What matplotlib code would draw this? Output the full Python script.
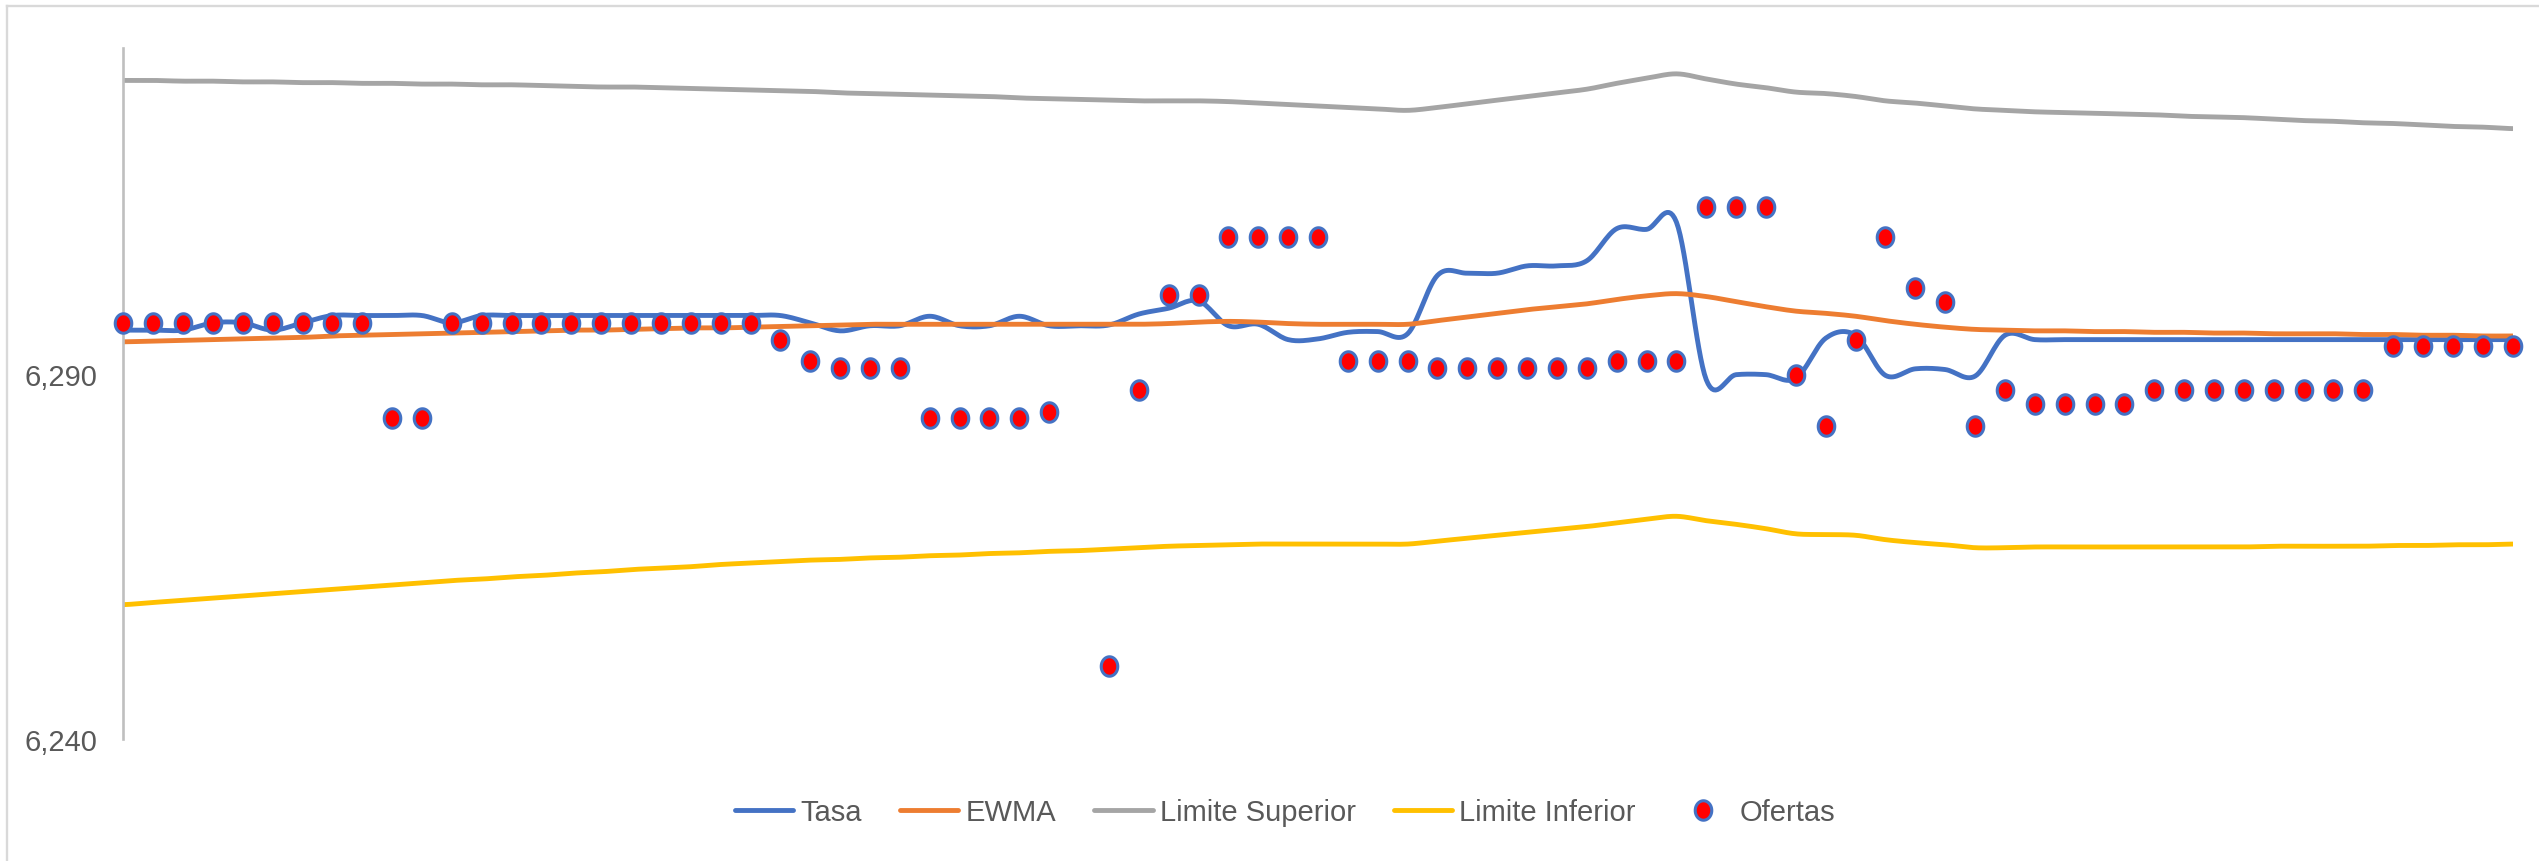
import numpy as np
import matplotlib
matplotlib.use("Agg")
import matplotlib.pyplot as plt
from matplotlib.lines import Line2D
from matplotlib.path import Path

plt.rcParams['font.family'] = ['Liberation Sans', 'DejaVu Sans']

tasa = [6296.0, 6296.0, 6296.0, 6297.0, 6297.0, 6296.0, 6297.0, 6298.0, 6298.0, 6298.0,
        6298.0, 6297.0, 6298.0, 6298.0, 6298.0, 6298.0, 6298.0, 6298.0, 6298.0, 6298.0,
        6298.0, 6298.0, 6298.0, 6297.0, 6295.9, 6296.6, 6296.6, 6297.9, 6296.6, 6296.6,
        6297.9, 6296.6, 6296.6, 6296.7, 6298.2, 6299.0, 6300.0, 6296.6, 6296.8, 6294.7,
        6294.8, 6295.7, 6295.8, 6295.5, 6303.5, 6303.8, 6303.8, 6304.8, 6304.8, 6305.5,
        6309.9, 6309.8, 6310.8, 6289.2, 6289.9, 6289.9, 6289.4, 6294.9, 6295.3, 6289.8,
        6290.7, 6290.6, 6289.7, 6295.3, 6294.7, 6294.7, 6294.7, 6294.7, 6294.7, 6294.7,
        6294.7, 6294.7, 6294.7, 6294.7, 6294.7, 6294.7, 6294.7, 6294.7, 6294.7, 6294.7,
        6294.7]

ewma = [6294.4, 6294.5, 6294.6, 6294.7, 6294.8, 6294.9, 6295.0, 6295.2, 6295.3, 6295.4,
        6295.5, 6295.6, 6295.7, 6295.8, 6295.9, 6296.0, 6296.0, 6296.1, 6296.2, 6296.3,
        6296.3, 6296.4, 6296.5, 6296.6, 6296.7, 6296.8, 6296.8, 6296.8, 6296.8, 6296.8,
        6296.8, 6296.8, 6296.8, 6296.8, 6296.8, 6296.9, 6297.1, 6297.2, 6297.1, 6296.9,
        6296.8, 6296.8, 6296.8, 6296.8, 6297.3, 6297.8, 6298.3, 6298.8, 6299.2, 6299.6,
        6300.2, 6300.7, 6301.0, 6300.6, 6299.9, 6299.2, 6298.6, 6298.3, 6297.9, 6297.3,
        6296.8, 6296.4, 6296.1, 6296.0, 6295.9, 6295.9, 6295.8, 6295.8, 6295.7, 6295.7,
        6295.6, 6295.6, 6295.5, 6295.5, 6295.5, 6295.4, 6295.4, 6295.3, 6295.3, 6295.2,
        6295.2]

lim_sup = [6330.2, 6330.2, 6330.1, 6330.1, 6330.0, 6330.0, 6329.9, 6329.9, 6329.8, 6329.8,
           6329.7, 6329.7, 6329.6, 6329.6, 6329.5, 6329.4, 6329.3, 6329.3, 6329.2, 6329.1,
           6329.0, 6328.9, 6328.8, 6328.7, 6328.5, 6328.4, 6328.3, 6328.2, 6328.1, 6328.0,
           6327.8, 6327.7, 6327.6, 6327.5, 6327.4, 6327.4, 6327.4, 6327.3, 6327.1, 6326.9,
           6326.7, 6326.5, 6326.3, 6326.1, 6326.5, 6327.0, 6327.5, 6328.0, 6328.5, 6329.0,
           6329.8, 6330.5, 6331.1, 6330.4, 6329.7, 6329.2, 6328.6, 6328.4, 6328.0, 6327.4,
           6327.1, 6326.7, 6326.3, 6326.1, 6325.9, 6325.8, 6325.7, 6325.6, 6325.5, 6325.3,
           6325.2, 6325.1, 6324.9, 6324.7, 6324.6, 6324.4, 6324.3, 6324.1, 6323.9, 6323.8,
           6323.6]

lim_inf = [6258.4, 6258.7, 6259.0, 6259.3, 6259.6, 6259.9, 6260.2, 6260.5, 6260.8, 6261.1,
           6261.4, 6261.7, 6261.9, 6262.2, 6262.4, 6262.7, 6262.9, 6263.2, 6263.4, 6263.6,
           6263.9, 6264.1, 6264.3, 6264.5, 6264.6, 6264.8, 6264.9, 6265.1, 6265.2, 6265.4,
           6265.5, 6265.7, 6265.8, 6266.0, 6266.2, 6266.4, 6266.5, 6266.6, 6266.7, 6266.7,
           6266.7, 6266.7, 6266.7, 6266.7, 6267.1, 6267.5, 6267.9, 6268.3, 6268.7, 6269.1,
           6269.6, 6270.1, 6270.5, 6269.9, 6269.4, 6268.8, 6268.1, 6268.0, 6267.9, 6267.3,
           6266.9, 6266.6, 6266.2, 6266.2, 6266.3, 6266.3, 6266.3, 6266.3, 6266.3, 6266.3,
           6266.3, 6266.3, 6266.4, 6266.4, 6266.4, 6266.4, 6266.5, 6266.5, 6266.6, 6266.6,
           6266.7]

nan = np.nan
ofertas = [6297.0, 6297.0, 6297.0, 6297.0, 6297.0, 6297.0, 6297.0, 6297.0, 6297.0, 6284.0,
           6284.0, 6297.0, 6297.0, 6297.0, 6297.0, 6297.0, 6297.0, 6297.0, 6297.0, 6297.0,
           6297.0, 6297.0, 6294.7, 6291.8, 6290.8, 6290.8, 6290.8, 6283.9, 6283.9, 6283.9,
           6283.9, 6284.8, nan, 6250.0, 6287.8, 6300.8, 6300.8, 6308.7, 6308.7, 6308.7,
           6308.7, 6291.8, 6291.8, 6291.8, 6290.8, 6290.8, 6290.8, 6290.8, 6290.8, 6290.8,
           6291.8, 6291.8, 6291.8, 6312.8, 6312.8, 6312.8, 6289.8, 6282.9, 6294.6, 6308.7,
           6301.8, 6299.9, 6282.9, 6287.8, 6285.9, 6285.9, 6285.9, 6285.9, 6287.8, 6287.8,
           6287.8, 6287.8, 6287.8, 6287.8, 6287.8, 6287.8, 6293.8, 6293.8, 6293.8, 6293.8,
           6293.8]

x = np.arange(len(tasa))


# Excel style smoothed line (bezier through the points)
def smooth(y, n=16):
    p = np.asarray(y, float)
    e = np.concatenate([[p[0]], p, [p[-1]]])
    t = np.linspace(0, 1, n, endpoint=False)
    xs, ys = [], []
    for i in range(len(p) - 1):
        p0, p1, p2, p3 = e[i], e[i + 1], e[i + 2], e[i + 3]
        c1 = p1 + (p2 - p0) / 6
        c2 = p2 - (p3 - p1) / 6
        b = (1 - t)**3 * p1 + 3 * (1 - t)**2 * t * c1 + 3 * (1 - t) * t**2 * c2 + t**3 * p2
        xs.append(i + t)
        ys.append(b)
    xs.append([len(p) - 1])
    ys.append([p[-1]])
    return np.concatenate(xs), np.concatenate(ys)


# slightly tall ellipse marker like the screenshot
th = np.linspace(0, 2 * np.pi, 60)
ellipse = Path(np.column_stack([0.85 * np.cos(th), np.sin(th)]), closed=True)

W, H = 2539, 862
fig = plt.figure(figsize=(W / 100, H / 100), dpi=100)
ax = fig.add_axes([123.3 / W, 1 - 740 / H, (2512.7 - 123.3) / W, (740 - 49.3) / H])

lw = 3.5
ax.plot(*smooth(tasa), color='#4472C4', lw=lw, label='Tasa', solid_capstyle='round')
ax.plot(*smooth(ewma), color='#ED7D31', lw=lw, label='EWMA', solid_capstyle='round')
ax.plot(*smooth(lim_sup), color='#A5A5A5', lw=lw, label='Limite Superior', solid_capstyle='round')
ax.plot(*smooth(lim_inf), color='#FFC000', lw=lw, label='Limite Inferior', solid_capstyle='round')
ax.plot(x, ofertas, linestyle='none', marker=ellipse, markersize=14,
        markerfacecolor='#FF0000', markeredgecolor='#4472C4', markeredgewidth=2.2,
        label='Ofertas', clip_on=False, zorder=5)

ax.set_xlim(0, 80)
ax.set_ylim(6240, 6334.6)
ax.set_xticks([])
ax.set_yticks([6240, 6290])
ax.set_yticklabels(['6,240', '6,290'])
ax.tick_params(axis='y', length=0, pad=18.5, labelsize=21, labelcolor='#595959')
for s in ['top', 'right', 'bottom']:
    ax.spines[s].set_visible(False)
ax.spines['left'].set_color('#BFBFBF')
ax.spines['left'].set_linewidth(1.9)

leg = fig.legend(loc='center', bbox_to_anchor=(1285 / W, 1 - 813 / H), ncol=5,
                 frameon=False, fontsize=21, handlelength=2.0, handletextpad=0.25,
                 columnspacing=1.3, numpoints=1)
for txt in leg.get_texts():
    txt.set_color('#595959')

# chart area border (cut by the screenshot at right and bottom)
fig.add_artist(Line2D([7 / W, 1], [1 - 7.3 / H, 1 - 7.3 / H], color='#D9D9D9', lw=1.7))
fig.add_artist(Line2D([7 / W, 7 / W], [0, 1 - 7.3 / H], color='#D9D9D9', lw=1.7))

fig.savefig('out.png', dpi=100)
